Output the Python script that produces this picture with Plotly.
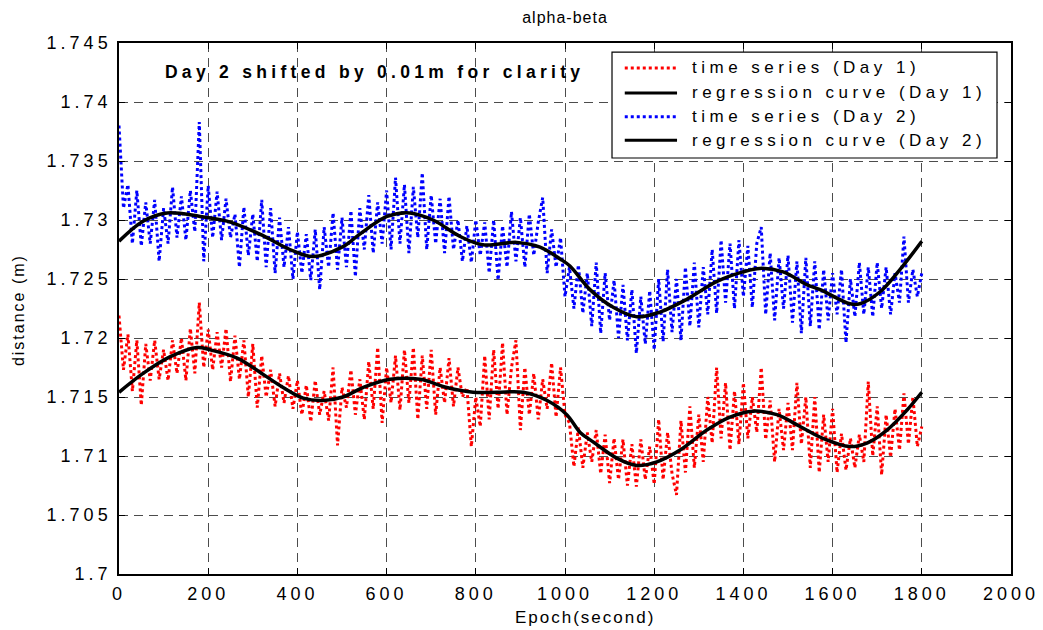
import plotly.graph_objects as go

BASE = 1.7          # metres; series below are stored in mm above this base
STEP = 10           # seconds between stored samples

# ---- time series (mm above 1.7 m), one value every 10 s from 0 to 1800 s ----
day1_series_mm = [
    21.9, 17.3, 20.3, 15.5, 19.8, 14.3, 19.5, 16.4, 19.8, 16.5,
    19.0, 16.4, 19.8, 17.0, 20.0, 16.4, 20.8, 17.0, 23.0, 17.5,
    20.7, 17.3, 20.5, 17.5, 20.8, 16.3, 20.2, 16.5, 19.8, 15.0,
    19.5, 14.1, 18.5, 15.0, 17.3, 14.2, 17.0, 14.5, 16.8, 14.0,
    16.4, 13.5, 16.0, 12.9, 16.4, 13.5, 15.5, 13.0, 17.5, 10.9,
    15.8, 14.1, 17.3, 13.5, 16.5, 13.1, 18.0, 14.0, 19.2, 12.8,
    17.5, 14.5, 18.5, 13.9, 19.0, 14.5, 19.2, 13.1, 18.5, 14.0,
    19.0, 13.5, 17.5, 14.5, 18.3, 14.2, 17.5, 15.0, 15.8, 10.8,
    15.0, 12.5, 18.5, 13.1, 19.0, 14.0, 19.6, 13.5, 17.5, 19.8,
    12.2, 17.5, 13.5, 17.0, 13.1, 16.5, 14.0, 17.9, 13.3, 17.5,
    13.5, 12.8, 9.1, 12.4, 9.0, 12.0, 9.5, 12.2, 8.5, 11.8,
    7.7, 11.5, 8.0, 11.4, 7.5, 11.0, 7.4, 11.4, 8.0, 10.8,
    7.6, 13.1, 8.0, 12.0, 8.5, 6.7, 13.0, 8.6, 14.2, 9.0,
    13.5, 9.5, 15.0, 11.1, 17.5, 11.5, 16.2, 10.5, 15.5, 11.0,
    16.2, 11.5, 15.0, 12.0, 17.5, 11.4, 14.7, 9.5, 14.0, 10.5,
    14.5, 10.5, 16.2, 11.0, 15.0, 9.0, 15.0, 8.6, 13.5, 9.5,
    14.0, 8.6, 11.9, 8.8, 11.5, 9.0, 11.8, 9.5, 16.3, 10.0,
    14.2, 8.4, 13.5, 9.9, 14.0, 10.5, 15.3, 11.0, 15.0, 10.8,
    12.5,
]

day2_series_mm = [
    38.0, 31.0, 33.0, 28.0, 32.5, 27.8, 31.5, 28.0, 31.7, 26.5,
    31.0, 28.0, 32.8, 28.5, 32.0, 28.3, 32.5, 29.0, 38.3, 26.5,
    32.9, 28.5, 32.4, 28.3, 31.8, 28.5, 30.5, 26.0, 31.1, 27.0,
    30.5, 26.5, 31.7, 26.0, 31.0, 25.5, 30.2, 26.0, 29.4, 25.0,
    29.0, 25.5, 28.8, 24.9, 29.2, 24.1, 29.4, 26.0, 30.6, 25.8,
    30.2, 26.0, 30.8, 25.2, 31.0, 27.5, 32.1, 27.2, 31.5, 28.0,
    32.5, 27.5, 33.6, 28.0, 33.0, 27.2, 32.8, 28.5, 34.0, 27.5,
    32.1, 28.0, 31.8, 27.2, 32.0, 27.5, 30.0, 26.5, 29.5, 26.4,
    30.0, 27.0, 29.8, 25.5, 30.0, 24.9, 29.5, 26.0, 30.7, 26.5,
    30.2, 26.0, 30.5, 27.0, 29.8, 31.9, 25.5, 29.2, 26.0, 28.5,
    23.5, 26.0, 22.5, 26.2, 22.1, 25.5, 21.0, 26.4, 20.4, 25.5,
    21.5, 24.9, 20.0, 24.5, 19.8, 24.1, 18.7, 23.5, 19.5, 24.0,
    19.0, 25.0, 19.7, 25.8, 20.5, 25.0, 19.8, 26.0, 21.0, 26.4,
    20.9, 26.0, 22.0, 27.5, 22.1, 28.3, 23.0, 28.0, 22.5, 28.3,
    23.5, 27.8, 22.6, 28.0, 29.4, 22.0, 27.2, 21.5, 26.8, 22.5,
    27.0, 21.3, 26.5, 20.4, 26.8, 21.0, 26.5, 20.7, 25.8, 21.5,
    25.5, 22.0, 25.8, 19.6, 25.0, 21.8, 26.4, 22.0, 26.0, 21.8,
    26.4, 22.5, 26.0, 22.0, 25.5, 23.0, 28.6, 23.0, 25.8, 23.5,
    25.5,
]

# ---- regression curves (knots) ----
day1_reg_t = [0, 54, 114, 175, 204, 265, 316, 368, 413, 457, 502, 547, 608, 675,
              735, 794, 848, 906, 960, 1004, 1034, 1063, 1117, 1161, 1206, 1258,
              1318, 1370, 1422, 1475, 1527, 1578, 1639, 1677, 1722, 1767, 1800]
day1_reg_mm = [15.4, 17.0, 18.4, 19.2, 19.0, 18.3, 17.1, 15.8, 14.9, 14.7, 15.0,
               15.8, 16.5, 16.5, 15.8, 15.4, 15.4, 15.4, 14.7, 13.5, 12.0, 11.2,
               9.8, 9.2, 9.5, 10.5, 12.2, 13.3, 13.8, 13.5, 12.5, 11.5, 10.8,
               11.1, 12.2, 13.9, 15.4]

day2_reg_t = [0, 54, 108, 182, 242, 316, 383, 435, 500, 540, 601, 652, 704, 765,
              816, 892, 944, 989, 1011, 1056, 1108, 1161, 1213, 1274, 1341, 1399,
              1437, 1489, 1543, 1572, 1639, 1661, 1706, 1751, 1800]
day2_reg_mm = [28.2, 29.9, 30.6, 30.3, 29.9, 28.8, 27.5, 26.9, 27.7, 28.8, 30.3,
               30.6, 30.0, 28.6, 27.9, 28.1, 27.7, 26.7, 26.1, 24.1, 22.6, 21.8,
               22.2, 23.3, 24.8, 25.6, 25.9, 25.6, 24.5, 24.1, 22.9, 22.9, 23.9,
               25.8, 28.2]

# ---- axes ----
x_tick_vals = [0, 200, 400, 600, 800, 1000, 1200, 1400, 1600, 1800, 2000]
y_tick_vals = [1.7, 1.705, 1.71, 1.715, 1.72, 1.725, 1.73, 1.735, 1.74, 1.745]
y_tick_text = ["1.7", "1.705", "1.71", "1.715", "1.72", "1.725", "1.73", "1.735", "1.74", "1.745"]

legend_labels = ["time series (Day 1)", "regression curve (Day 1)",
                 "time series (Day 2)", "regression curve (Day 2)"]


def to_m(values):
    return [BASE + v / 1000.0 for v in values]


t_series = [i * STEP for i in range(len(day1_series_mm))]

FONT = "Liberation Sans, Arial, Helvetica, sans-serif"

fig = go.Figure()
fig.add_trace(go.Scatter(x=t_series, y=to_m(day1_series_mm), mode="lines",
                         line=dict(color="#ff0000", width=3, dash="dot"),
                         name=legend_labels[0]))
fig.add_trace(go.Scatter(x=day1_reg_t, y=to_m(day1_reg_mm), mode="lines",
                         line=dict(color="black", width=3.5, shape="spline", smoothing=1.0),
                         name=legend_labels[1]))
fig.add_trace(go.Scatter(x=t_series, y=to_m(day2_series_mm), mode="lines",
                         line=dict(color="#0000ff", width=3, dash="dot"),
                         name=legend_labels[2]))
fig.add_trace(go.Scatter(x=day2_reg_t, y=to_m(day2_reg_mm), mode="lines",
                         line=dict(color="black", width=3.5, shape="spline", smoothing=1.0),
                         name=legend_labels[3]))

axis_common = dict(
    showline=True, linecolor="black", linewidth=1.5, mirror="allticks",
    ticks="inside", ticklen=6, tickwidth=1, tickcolor="black",
    showgrid=True, gridcolor="rgba(0,0,0,0.7)", gridwidth=1, griddash="9px,6px",
    zeroline=False, tickfont=dict(family=FONT, size=18, color="black"),
)

fig.update_layout(
    width=1043, height=630,
    margin=dict(l=119, r=32, t=43, b=56),
    paper_bgcolor="white", plot_bgcolor="white",
    showlegend=False,
    font=dict(family=FONT, color="black"),
    title=dict(text="alpha-beta", x=0.5, xref="paper", xanchor="center",
               y=1 - 17 / 630, yref="container", yanchor="middle",
               font=dict(family=FONT, size=16, color="black")),
    xaxis=dict(range=[0, 2000], tickvals=x_tick_vals, ticklabelstandoff=3, **axis_common),
    yaxis=dict(range=[1.7, 1.745], tickvals=y_tick_vals, ticktext=y_tick_text,
               ticklabelstandoff=2, **axis_common),
)

annotations = [
    dict(text="<b>Day 2 shifted by 0.01m for clarity</b>", xref="paper", yref="paper",
         x=0.287, y=0.945, xanchor="center", yanchor="middle", showarrow=False,
         font=dict(family=FONT, size=17.5, color="black")),
    dict(text="Epoch(second)", xref="paper", yref="paper", x=0.522, y=0, yshift=-43,
         xanchor="center", yanchor="middle", showarrow=False,
         font=dict(family=FONT, size=17, color="black")),
    dict(text="distance (m)", xref="paper", yref="paper", x=0, xshift=-101, y=0.497,
         xanchor="center", yanchor="middle", textangle=-90, showarrow=False,
         font=dict(family=FONT, size=16, color="black")),
]

# manual legend (box, samples, labels)
leg_x0, leg_x1 = 0.5527, 0.9843
leg_y0, leg_y1 = 0.7834, 0.983
row_y = [0.953, 0.906, 0.861, 0.817]
sample_x0, sample_x1 = 0.567, 0.6256
text_x = 0.640
sample_styles = [dict(color="#ff0000", width=3, dash="dot"),
                 dict(color="black", width=3, dash="solid"),
                 dict(color="#0000ff", width=3, dash="dot"),
                 dict(color="black", width=3, dash="solid")]

shapes = [dict(type="rect", xref="paper", yref="paper", x0=leg_x0, x1=leg_x1,
               y0=leg_y0, y1=leg_y1, line=dict(color="black", width=1.2),
               fillcolor="white", layer="above")]
for ry, st, lab in zip(row_y, sample_styles, legend_labels):
    shapes.append(dict(type="line", xref="paper", yref="paper", x0=sample_x0, x1=sample_x1,
                       y0=ry, y1=ry, line=st, layer="above"))
    annotations.append(dict(text=lab, xref="paper", yref="paper", x=text_x, y=ry,
                            xanchor="left", yanchor="middle", align="left", showarrow=False,
                            font=dict(family=FONT, size=17, color="black")))

fig.update_layout(shapes=shapes, annotations=annotations)

post_js = """
var s = document.createElement('style');
s.innerHTML = '.xtick text, .ytick text {letter-spacing: 4px;}' +
  '.gtitle {letter-spacing: 1px;}' +
  'g.annotation[data-index="0"] text {letter-spacing: 4.3px;}' +
  'g.annotation[data-index="1"] text {letter-spacing: 2px;}' +
  'g.annotation[data-index="2"] text {letter-spacing: 2px;}' +
  'g.annotation[data-index="3"] text, g.annotation[data-index="4"] text,' +
  'g.annotation[data-index="5"] text, g.annotation[data-index="6"] text {letter-spacing: 4.5px;}';
document.head.appendChild(s);
"""

fig.write_html("out.html", post_script=post_js)
